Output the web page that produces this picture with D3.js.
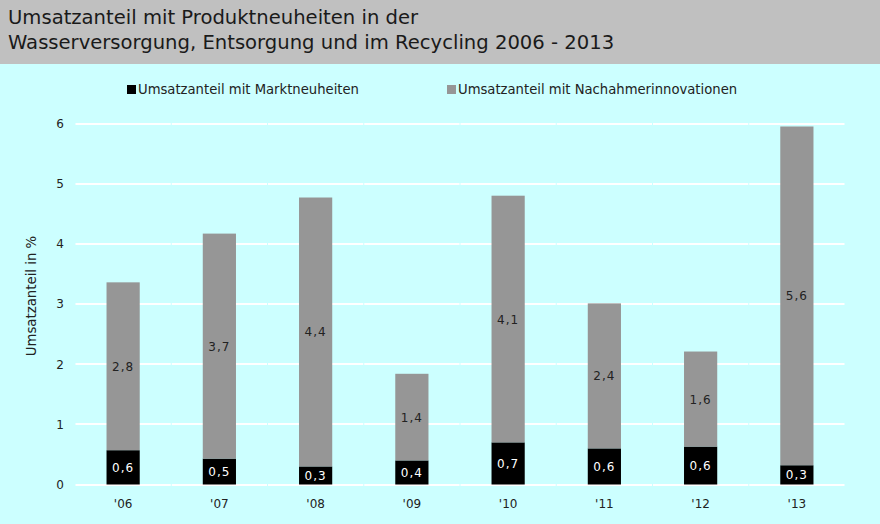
<!DOCTYPE html>
<html><head><meta charset="utf-8">
<script src="https://cdn.jsdelivr.net/npm/d3@7"></script>
<style>body{margin:0;}svg{display:block;}</style>
</head><body>
<svg id="c" width="880" height="524"></svg>
<script>
const titleLines = ["Umsatzanteil mit Produktneuheiten in der", "Wasserversorgung, Entsorgung und im Recycling 2006 - 2013"];
const categories = ["'06","'07","'08","'09","'10","'11","'12","'13"];
const markt = [0.57, 0.43, 0.30, 0.40, 0.70, 0.60, 0.63, 0.32];
const nachahmer = [2.79, 3.74, 4.47, 1.44, 4.10, 2.41, 1.58, 5.63];
const marktLabels = ["0,6","0,5","0,3","0,4","0,7","0,6","0,6","0,3"];
const nachLabels = ["2,8","3,7","4,4","1,4","4,1","2,4","1,6","5,6"];
const yTicks = [0,1,2,3,4,5,6];
const seriesNames = ["Umsatzanteil mit Marktneuheiten","Umsatzanteil mit Nachahmerinnovationen"];
const colors = ["#000000","#969696"];

const svg = d3.select("#c");
const font = "Verdana, 'DejaVu Sans', sans-serif";
svg.append("rect").attr("width",880).attr("height",524).attr("fill","#ccffff");
svg.append("rect").attr("width",880).attr("height",64).attr("fill","#c0c0c0");
svg.append("text").attr("font-family",font).attr("font-size",19.6).attr("fill","#1a1a1a")
  .selectAll("tspan").data(titleLines).join("tspan")
  .attr("x",8).attr("y",(d,i)=>24+i*24.5).text(d=>d);

const x = d3.scaleBand().domain(categories).range([75,845]).paddingInner(0.655).paddingOuter(0.3275);
const xOuter = d3.scaleBand().domain(categories).range([75,845]);
const y = d3.scaleLinear().domain([0,6]).range([484.5,123.5]);

// gridlines, per category segment
const g = svg.append("g");
yTicks.forEach(t=>{
  categories.forEach(c=>{
    g.append("line").attr("x1",xOuter(c)+0.5).attr("x2",xOuter(c)+xOuter.bandwidth()-0.5)
      .attr("y1",Math.round(y(t))).attr("y2",Math.round(y(t)))
      .attr("stroke","#ffffff").attr("stroke-width",2);
  });
});

// y axis labels
const yAxis = d3.axisLeft(y).tickValues(yTicks).tickSize(0).tickPadding(0).tickFormat(d3.format("d"));
const ya = svg.append("g").attr("transform","translate(64,0)").call(yAxis);
ya.select(".domain").remove();
ya.selectAll("text").attr("font-family",font).attr("font-size",12).attr("fill","#222").attr("text-anchor","middle").attr("x",-4);

const xAxis = d3.axisBottom(x).tickSize(0).tickPadding(0);
const xa = svg.append("g").attr("transform","translate(0,499.5)").call(xAxis);
xa.select(".domain").remove();
xa.selectAll("text").attr("font-family",font).attr("font-size",12).attr("fill","#222");

svg.append("text").attr("transform","translate(36,296) rotate(-90)").attr("text-anchor","middle")
  .attr("font-family",font).attr("font-size",13.3).attr("fill","#222").text("Umsatzanteil in %");

// stacked bars
const data = categories.map((c,i)=>({c, m:markt[i], n:nachahmer[i]}));
const stack = d3.stack().keys(["m","n"])(data);
stack.forEach((layer,li)=>{
  svg.append("g").selectAll("rect").data(layer).join("rect")
    .attr("x",d=>x(d.data.c)).attr("width",x.bandwidth())
    .attr("y",d=>y(d[1])).attr("height",d=>y(d[0])-y(d[1]))
    .attr("fill",colors[li]);
});
const lblSets = [marktLabels, nachLabels];
stack.forEach((layer,li)=>{
  svg.append("g").selectAll("text").data(layer).join("text")
    .attr("x",d=>x(d.data.c)+x.bandwidth()/2)
    .attr("y",d=>(y(d[0])+y(d[1]))/2+4.5)
    .attr("text-anchor","middle").attr("font-family",font).attr("font-size",12)
    .attr("letter-spacing",1)
    .attr("fill",li===0?"#ffffff":"#222222")
    .text((d,i)=>lblSets[li][i]);
});

// legend
const leg = svg.append("g");
const legX = [127, 447];
seriesNames.forEach((s,i)=>{
  leg.append("rect").attr("x",legX[i]).attr("y",85).attr("width",9).attr("height",9).attr("fill",colors[i]);
  leg.append("text").attr("x",legX[i]+11).attr("y",94).attr("font-family",font).attr("font-size",13.2)
    .attr("fill","#222").text(s);
});
</script>
</body></html>
